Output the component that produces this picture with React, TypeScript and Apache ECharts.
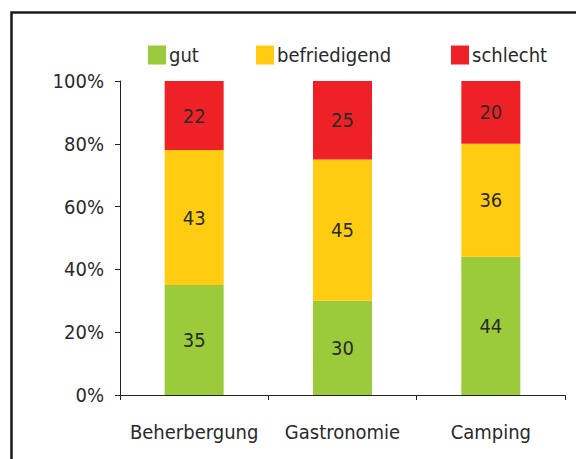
import React, { useEffect, useRef } from "react";
import * as echarts from "echarts";

const categories = ["Beherbergung", "Gastronomie", "Camping"];
const seriesNames = ["gut", "befriedigend", "schlecht"];
const gut = [35, 30, 44];
const befriedigend = [43, 45, 36];
const schlecht = [22, 25, 20];
const colors = ["#9BCB3B", "#FFCC11", "#EE2226"];
const yTicks = { min: 0, max: 100, interval: 20 };

const FONT = "'DejaVu Sans Condensed', sans-serif";

export default function App() {
  const ref = useRef<HTMLDivElement>(null);
  useEffect(() => {
    if (!ref.current) return;
    const chart = echarts.init(ref.current, undefined, { renderer: "svg" });
    const values = [gut, befriedigend, schlecht];
    const legendLefts = [143, 251, 446];
    chart.setOption({
      animation: false,
      textStyle: { fontFamily: FONT },
      grid: { left: 120, right: 11, top: 81, bottom: 64, containLabel: false },
      legend: seriesNames.map((n, i) => ({
        data: [n],
        left: legendLefts[i],
        top: 40,
        itemWidth: 18,
        itemHeight: 19,
        itemGap: 4,
        icon: "rect",
        selectedMode: false,
        textStyle: { fontFamily: FONT, fontSize: 20, color: "#2a2a2a", padding: [0, 0, 0, -2] },
      })),
      xAxis: {
        type: "category",
        data: categories,
        axisLine: { lineStyle: { color: "#222", width: 1 } },
        axisTick: { show: true, length: 5, alignWithLabel: false, lineStyle: { color: "#222" } },
        axisLabel: { fontFamily: FONT, fontSize: 20, color: "#2a2a2a", margin: 27, interval: 0 },
      },
      yAxis: {
        type: "value",
        min: yTicks.min,
        max: yTicks.max,
        interval: yTicks.interval,
        axisLine: { show: true, lineStyle: { color: "#222", width: 1 } },
        axisTick: { show: true, length: 5, lineStyle: { color: "#222" } },
        splitLine: { show: false },
        axisLabel: { fontFamily: FONT, fontSize: 20, color: "#2a2a2a", margin: 16, formatter: "{value}%" },
      },
      series: seriesNames.map((n, i) => ({
        name: n,
        type: "bar",
        stack: "total",
        barWidth: 59,
        data: values[i],
        itemStyle: { color: colors[i] },
        label: {
          show: true,
          position: "inside",
          fontFamily: FONT,
          fontSize: 20,
          color: "#2a2a2a",
        },
      })),
      graphic: [
        {
          type: "rect",
          left: 9,
          top: 10,
          shape: { width: 620, height: 500 },
          style: { fill: "none", stroke: "#1a1a1a", lineWidth: 2.5 },
          silent: true,
        },
      ],
    });
    return () => chart.dispose();
  }, []);
  return <div ref={ref} style={{ width: 576, height: 459, position: "absolute", left: 0, top: 0 }} />;
}
